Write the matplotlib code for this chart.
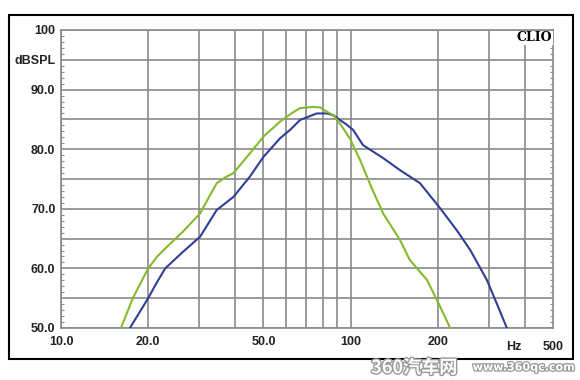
import matplotlib
matplotlib.use("Agg")
import matplotlib.pyplot as plt
import matplotlib.patheffects as pe
from matplotlib.patches import Rectangle

# curves (Hz, dB SPL)
green_f = [16.1, 17.7, 20.0, 21.5, 23.2, 26.4, 30.2, 32.3, 34.5, 37.0, 39.4,
           44.9, 50.0, 57.0, 62.0, 66.9, 74.3, 78.6, 82.7, 87.2, 91.9, 99.4,
           107.8, 118.0, 129.6, 148.0, 160.2, 183.4, 203.8, 220.7]
green_db = [50.0, 55.0, 60.0, 62.0, 63.6, 66.2, 69.2, 71.8, 74.3, 75.3, 76.0,
            79.3, 82.1, 84.6, 85.9, 86.9, 87.1, 87.0, 86.3, 85.7, 84.3, 81.8,
            78.2, 73.6, 69.2, 64.8, 61.4, 58.1, 53.6, 50.0]

blue_f = [17.3, 20.0, 21.4, 22.9, 26.4, 30.2, 34.5, 39.4, 44.9, 50.0, 57.0,
          62.0, 66.9, 76.4, 82.7, 87.2, 91.9, 96.5, 102.2, 110.3, 129.6,
          148.0, 173.6, 203.8, 232.6, 258.8, 295.2, 319.8, 346.5]
blue_db = [50.0, 55.0, 57.6, 60.0, 62.8, 65.3, 69.8, 72.0, 75.4, 78.7, 81.8,
           83.3, 84.9, 86.0, 86.0, 85.7, 84.9, 84.2, 83.2, 80.7, 78.5,
           76.5, 74.3, 70.1, 66.4, 63.1, 58.1, 54.1, 50.0]

x_major = [10, 20, 50, 100, 200]
x_major_lbl = ["10.0", "20.0", "50.0", "100", "200"]
x_minor = [30, 40, 60, 70, 80, 90, 300, 400]
y_ticks = [50, 55, 60, 65, 70, 75, 80, 85, 90, 95, 100]
y_lbl = ["50.0", "", "60.0", "", "70.0", "", "80.0", "", "90.0", "dBSPL", "100"]

fig = plt.figure(figsize=(5.8, 3.8), dpi=100)
fig.patch.set_facecolor("white")
ax = fig.add_axes([61/580, 1-328/380, (553-61)/580, (328-30)/380])

grid_c = "#8a8a8a"
lab_kw = dict(fontsize=9, fontweight="bold", color="#222222",
              family="Liberation Sans")
ax.set_xscale("log")
ax.set_xlim(10, 500)
ax.set_ylim(50, 100)
ax.set_xticks(x_major)
ax.set_xticklabels(x_major_lbl)
ax.set_xticks(x_minor, minor=True)
ax.set_xticklabels([], minor=True)
ax.set_yticks(y_ticks)
ax.set_yticklabels(y_lbl)
ax.set_yticks(range(50, 101), minor=True)
ax.grid(True, which="major", color=grid_c, lw=1.2)
ax.grid(True, which="minor", axis="x", color=grid_c, lw=1.2)
ax.tick_params(axis="x", which="both", length=0, pad=6)
ax.tick_params(axis="y", which="major", length=0, pad=4)
ax.tick_params(axis="y", which="minor", length=2.5, color=grid_c,
               direction="in", left=True, right=True, width=0.8)
for lb in ax.get_xticklabels() + ax.get_yticklabels():
    lb.set_fontweight("bold")
    lb.set_fontsize(9)
    lb.set_color("#222222")
    lb.set_family("Liberation Sans")
for s in ax.spines.values():
    s.set_color(grid_c)
    s.set_linewidth(1.2)

ax.plot(blue_f, blue_db, color="#2f3f95", lw=1.5, zorder=3)
ax.plot(green_f, green_db, color="#84bb2c", lw=1.5, zorder=3)

xt = ax.get_xaxis_transform()
ax.text(365, -0.045, "Hz", transform=xt, ha="center", va="top", **lab_kw)
ax.text(500, -0.045, "500", transform=xt, ha="center", va="top", **lab_kw)
ax.text(0.998, 0.995, "CLIO", transform=ax.transAxes, ha="right", va="top",
        fontsize=9, fontweight="bold", family="DejaVu Serif", color="black",
        bbox=dict(facecolor="white", edgecolor="none", pad=0.5), zorder=5)

fig.patches.append(Rectangle((9/580, 1-359/380), 564/580, 344/380,
                             transform=fig.transFigure, fill=False,
                             edgecolor="black", lw=1.5))

fig.text(0.64, 0.018, "360汽车网", fontsize=13, fontweight="bold",
         family=["Noto Sans CJK SC", "DejaVu Sans"], color="white",
         path_effects=[pe.withStroke(linewidth=2, foreground="#9a9a9a")])
fig.text(0.815, 0.025, "www.360qc.com", fontsize=8, fontweight="bold",
         color="white",
         path_effects=[pe.withStroke(linewidth=1.8, foreground="#9a9a9a")])

fig.savefig("out.png", dpi=100)
